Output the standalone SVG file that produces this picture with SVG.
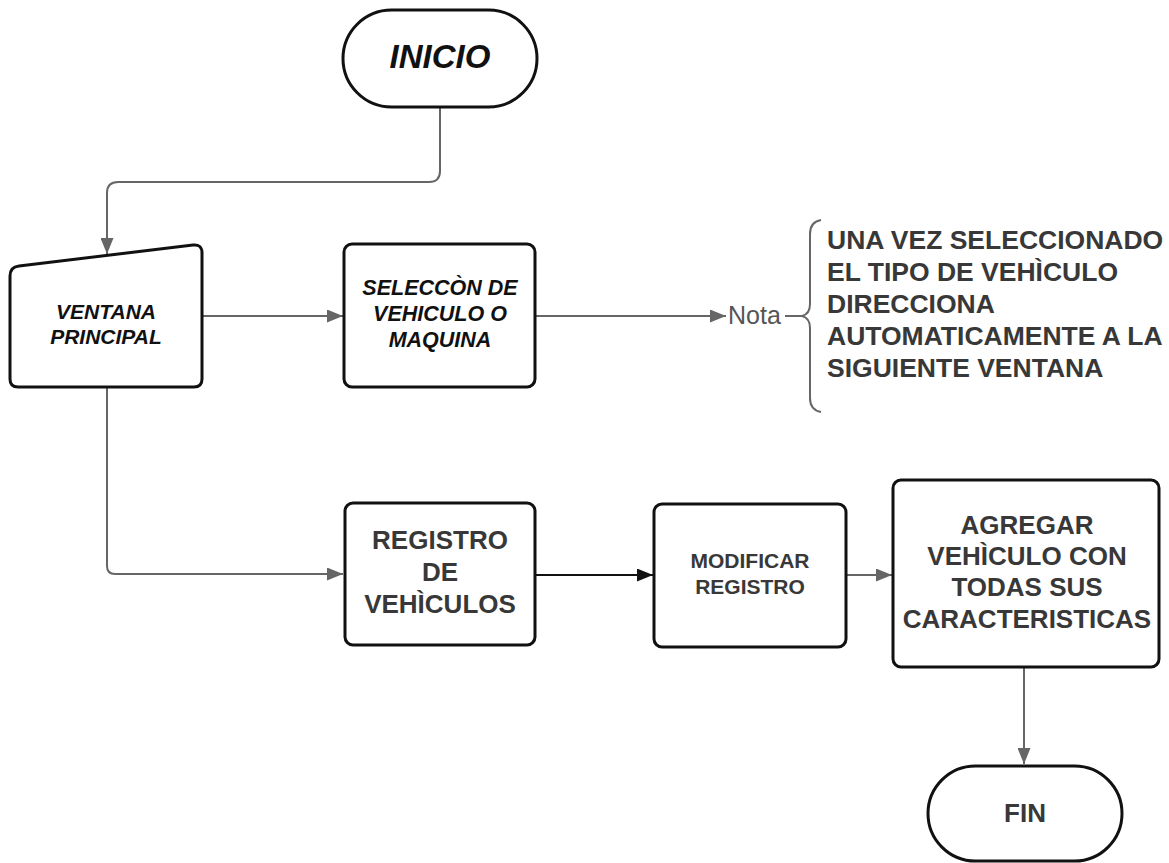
<svg xmlns="http://www.w3.org/2000/svg" width="1169" height="863" viewBox="0 0 1169 863">
  <defs>
    <style>
      .shape { fill: #ffffff; stroke: #111111; stroke-width: 3; stroke-linejoin: round; }
      .link { fill: none; stroke: #666666; stroke-width: 2; }
      .link-dark { fill: none; stroke: #111111; stroke-width: 2; }
      .label-it { font-family: "Liberation Sans", Arial, sans-serif; font-weight: bold; font-style: italic; fill: #111111; text-anchor: middle; }
      .label { font-family: "Liberation Sans", Arial, sans-serif; font-weight: bold; fill: #383838; text-anchor: middle; }
      .note { font-family: "Liberation Sans", Arial, sans-serif; font-weight: bold; fill: #383838; font-size: 26.5px; }
      .nota { font-family: "Liberation Sans", Arial, sans-serif; fill: #555555; font-size: 25px; }
    </style>
    <marker id="arrow-grey" markerWidth="16" markerHeight="13" refX="16" refY="6.5" orient="auto" markerUnits="userSpaceOnUse">
      <path d="M0,0 L16,6.5 L0,13 Z" fill="#666666"/>
    </marker>
    <marker id="arrow-dark" markerWidth="16" markerHeight="13" refX="16" refY="6.5" orient="auto" markerUnits="userSpaceOnUse">
      <path d="M0,0 L16,6.5 L0,13 Z" fill="#111111"/>
    </marker>
  </defs>

  <rect width="1169" height="863" fill="#ffffff"/>

  <!-- connectors -->
  <g id="connectors">
    <path class="link" d="M440 108 L440 171 Q440 182 429 182 L118 182 Q107 182 107 193 L107 254" marker-end="url(#arrow-grey)"/>
    <path class="link" d="M203 316 L343 316" marker-end="url(#arrow-grey)"/>
    <path class="link" d="M536 316 L726 316" marker-end="url(#arrow-grey)"/>
    <path class="link" d="M785 316 L803 316"/>
    <path class="link" stroke-width="2.5" d="M821 220 Q810 222 810 234 L810 304 Q810 314 802 316 Q810 318 810 328 L810 398 Q810 410 821 412"/>
    <path class="link" d="M107 388 L107 566 Q107 574 115 574 L343 574" marker-end="url(#arrow-grey)"/>
    <path class="link-dark" d="M536 575 L653 575" marker-end="url(#arrow-dark)"/>
    <path class="link" d="M847 575 L892 575" marker-end="url(#arrow-grey)"/>
    <path class="link" d="M1024 668 L1024 764" marker-end="url(#arrow-grey)"/>
  </g>

  <!-- start terminal -->
  <g id="inicio">
    <rect class="shape" x="343" y="10" width="194" height="97" rx="48.5"/>
    <text class="label-it" x="440" y="68" font-size="33">INICIO</text>
  </g>

  <!-- manual input window -->
  <g id="ventana-principal">
    <path class="shape" d="M10 276 Q10 267 19 266 L193 245 Q202 244 202 253 L202 379 Q202 387 194 387 L18 387 Q10 387 10 379 Z"/>
    <text class="label-it" font-size="21"><tspan x="106" y="319">VENTANA</tspan><tspan x="106" y="344">PRINCIPAL</tspan></text>
  </g>

  <g id="seleccion">
    <rect class="shape" x="344" y="244" width="191" height="143" rx="8"/>
    <text class="label-it" font-size="21.5"><tspan x="440" y="295">SELECCÒN DE</tspan><tspan x="440" y="321">VEHICULO O</tspan><tspan x="440" y="347">MAQUINA</tspan></text>
  </g>

  <g id="nota">
    <text class="nota" x="728" y="324">Nota</text>
    <text class="note"><tspan x="827" y="249">UNA VEZ SELECCIONADO</tspan><tspan x="827" y="281">EL TIPO DE VEHÌCULO</tspan><tspan x="827" y="313">DIRECCIONA</tspan><tspan x="827" y="345">AUTOMATICAMENTE A LA</tspan><tspan x="827" y="377">SIGUIENTE VENTANA</tspan></text>
  </g>

  <g id="registro">
    <rect class="shape" x="345" y="503" width="190" height="142" rx="8"/>
    <text class="label" font-size="26"><tspan x="440" y="549">REGISTRO</tspan><tspan x="440" y="581">DE</tspan><tspan x="440" y="613">VEHÌCULOS</tspan></text>
  </g>

  <g id="modificar">
    <rect class="shape" x="654" y="504" width="192" height="143" rx="8"/>
    <text class="label" font-size="21"><tspan x="750" y="568">MODIFICAR</tspan><tspan x="750" y="594">REGISTRO</tspan></text>
  </g>

  <g id="agregar">
    <rect class="shape" x="893" y="480" width="266" height="187" rx="8"/>
    <text class="label" font-size="26"><tspan x="1027" y="534">AGREGAR</tspan><tspan x="1027" y="565">VEHÌCULO CON</tspan><tspan x="1027" y="596">TODAS SUS</tspan><tspan x="1027" y="628">CARACTERISTICAS</tspan></text>
  </g>

  <!-- end terminal -->
  <g id="fin">
    <rect class="shape" x="928" y="766" width="194" height="95" rx="47.5"/>
    <text class="label" x="1025" y="822" font-size="26">FIN</text>
  </g>
</svg>
